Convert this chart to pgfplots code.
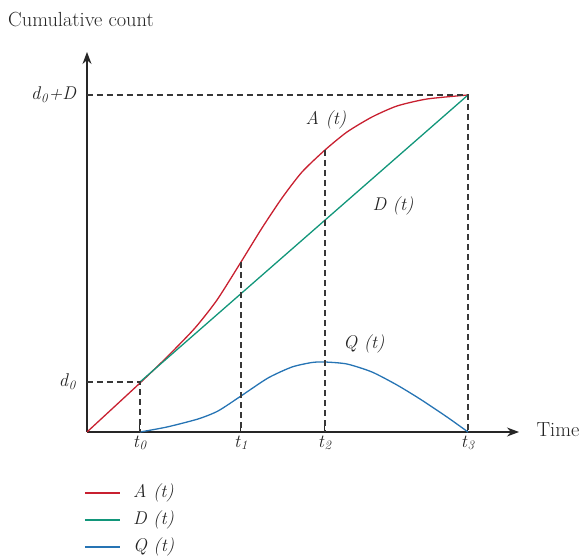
\documentclass[border=0pt]{standalone}
\usepackage{fontspec}
\usepackage{pgfplots}
\pgfplotsset{compat=1.18}
\usetikzlibrary{arrows.meta}

\definecolor{arrcol}{RGB}{200,32,48}
\definecolor{depcol}{RGB}{18,150,122}
\definecolor{quecol}{RGB}{38,116,180}
\definecolor{txt}{RGB}{35,35,35}
\definecolor{guide}{RGB}{55,55,55}
\newcommand{\lbl}{\fontsize{20.5}{24}\selectfont}
\newcommand{\ilbl}{\fontsize{18.5}{22}\selectfont}
\newcommand{\sub}[2]{\textit{#1}\textsubscript{\textit{#2}}}

\begin{document}
\begin{tikzpicture}
\begin{axis}[
  x=1bp, y=1bp,
  xmin=0, xmax=432, ymin=0, ymax=380,
  axis lines=left,
  axis line style={line width=1.3bp, black!85, -{Stealth[length=12bp,width=9bp]}},
  clip=false,
  tick align=inside,
  xtick={53,154,238,381},
  xticklabels={\sub{t}{0},\sub{t}{1},\sub{t}{2},\sub{t}{3}},
  xtick style={line width=1bp, black!85},
  major tick length=7bp,
  ytick={50,337},
  yticklabels={\sub{d}{0},\sub{d}{0}\textit{+D}},
  ytick style={draw=none},
  yticklabel style={xshift=-7bp},
  tick label style={font=\ilbl, text=txt},
  every axis plot/.append style={line width=1.3bp},
]
% arrivals
\addplot[color=arrcol, smooth, tension=0.4] coordinates {
  (0,0) (53,49) (80,75) (108,104) (130,132) (154,170) (175,204) (195,234)
  (215,260) (238,282) (260,300) (285,315) (310,326) (340,333) (381,337)
};
% departures
\addplot[color=depcol] coordinates {(53,50) (381,337)};
% queue length
\addplot[color=quecol, smooth, tension=0.4] coordinates {
  (53,0) (80,5) (111,13) (131,21) (154,36) (181,54) (205,65) (225,69.5) (238,70)
  (260,68) (285,60) (310,47) (333,33) (360,15) (381,0)
};

% guide lines
\addplot[guide, line width=1.2bp, dash pattern=on 6bp off 4bp] coordinates {(0,50) (53,50) (53,0)};
\addplot[guide, line width=1.2bp, dash pattern=on 6bp off 4bp] coordinates {(154,170) (154,0)};
\addplot[guide, line width=1.2bp, dash pattern=on 6bp off 4bp] coordinates {(238,282) (238,0)};
\addplot[guide, line width=1.2bp, dash pattern=on 6bp off 4bp] coordinates {(0,337) (381,337) (381,0)};

% curve labels
\node[font=\ilbl, text=txt] at (axis cs:239,312) {\textit{A (t)}};
\node[font=\ilbl, text=txt] at (axis cs:306,226) {\textit{D (t)}};
\node[font=\ilbl, text=txt] at (axis cs:277,88) {\textit{Q (t)}};
\node[font=\lbl, text=txt, anchor=west] at (axis cs:446,2) {Time};
\node[font=\lbl, text=txt, anchor=base west, inner sep=0pt] at (axis cs:-79,405) {Cumulative count};

% key below the plot
\addplot[color=arrcol] coordinates {(-2,-61) (33,-61)};
\addplot[color=depcol] coordinates {(-2,-88) (33,-88)};
\addplot[color=quecol] coordinates {(-2,-115) (33,-115)};
\node[font=\ilbl, text=txt, anchor=west, inner sep=0pt] at (axis cs:46,-61) {\textit{A (t)}};
\node[font=\ilbl, text=txt, anchor=west, inner sep=0pt] at (axis cs:46,-88) {\textit{D (t)}};
\node[font=\ilbl, text=txt, anchor=west, inner sep=0pt] at (axis cs:46,-115) {\textit{Q (t)}};
\end{axis}
\pgfresetboundingbox
\path (-87bp,-127bp) rectangle (493bp,432bp);
\end{tikzpicture}
\end{document}
